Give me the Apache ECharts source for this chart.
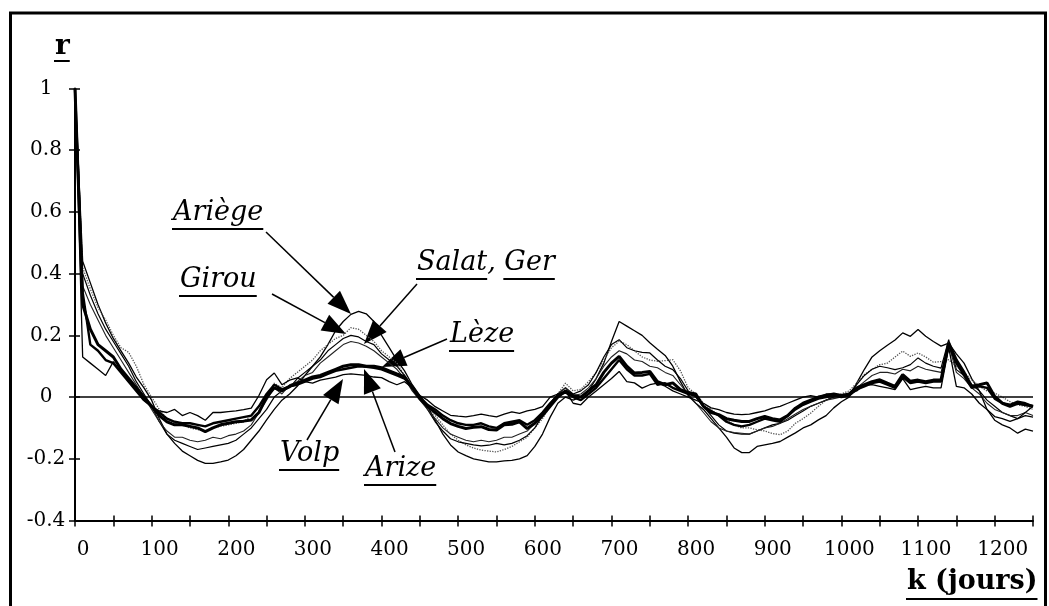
<!DOCTYPE html>
<html><head><meta charset="utf-8">
<script src="https://cdn.jsdelivr.net/npm/echarts@6/dist/echarts.min.js"></script>
<style>html,body{margin:0;padding:0;background:#fff;}#c{width:1049px;height:606px;}</style>
</head><body><div id="c"></div>
<script>
// lag k in days: one value every LAG_STEP days, from 0 to 1250
const LAG_STEP = 10;
const xTickLabels = [0,100,200,300,400,500,600,700,800,900,1000,1100,1200];
const yTickLabels = [-0.4,-0.2,0,0.2,0.4,0.6,0.8,1];

const ariege = [
 1,0.44,0.37,0.30,0.24,0.19,0.15,0.11,0.065,0.03,
 -0.01,-0.07,-0.12,-0.15,-0.175,-0.19,-0.205,-0.215,-0.215,-0.21,
 -0.204,-0.19,-0.17,-0.14,-0.11,-0.074,-0.04,-0.01,0.01,0.035,
 0.07,0.1,0.13,0.17,0.215,0.245,0.268,0.278,0.27,0.245,
 0.2,0.16,0.12,0.085,0.04,0.005,-0.03,-0.075,-0.12,-0.155,
 -0.178,-0.19,-0.2,-0.205,-0.21,-0.21,-0.207,-0.205,-0.2,-0.19,
 -0.16,-0.12,-0.065,-0.02,0.0,-0.01,0.0,0.02,0.06,0.11,
 0.18,0.245,0.23,0.215,0.2,0.176,0.155,0.135,0.1,0.05,
 0.005,-0.02,-0.04,-0.07,-0.1,-0.13,-0.165,-0.18,-0.18,-0.16,
 -0.155,-0.15,-0.144,-0.13,-0.116,-0.1,-0.09,-0.074,-0.06,-0.035,
 -0.015,0.0,0.045,0.09,0.13,0.15,0.168,0.185,0.208,0.197,
 0.219,0.197,0.18,0.165,0.175,0.14,0.11,0.06,0.02,-0.04,
 -0.075,-0.09,-0.1,-0.117,-0.104,-0.11
];
const girou = [
 1,0.42,0.35,0.29,0.25,0.2,0.16,0.145,0.1,0.04,
 0.0,-0.04,-0.07,-0.085,-0.09,-0.1,-0.105,-0.11,-0.1,-0.095,
 -0.09,-0.085,-0.08,-0.06,-0.03,0.0,0.045,0.03,0.06,0.08,
 0.1,0.12,0.15,0.17,0.19,0.2,0.225,0.22,0.2,0.18,
 0.15,0.13,0.11,0.07,0.03,0.0,-0.03,-0.06,-0.09,-0.12,
 -0.14,-0.155,-0.165,-0.172,-0.175,-0.178,-0.17,-0.16,-0.145,-0.13,
 -0.1,-0.07,-0.03,0.01,0.045,0.02,0.025,0.05,0.08,0.12,
 0.16,0.181,0.17,0.15,0.13,0.12,0.116,0.118,0.121,0.085,
 0.03,0.01,-0.02,-0.04,-0.06,-0.075,-0.09,-0.1,-0.1,-0.106,
 -0.11,-0.118,-0.122,-0.11,-0.085,-0.07,-0.052,-0.03,-0.01,0.005,
 0.01,0.02,0.045,0.073,0.09,0.105,0.11,0.13,0.149,0.132,
 0.143,0.13,0.113,0.115,0.121,0.1,0.08,0.056,0.035,0.02,
 0.013,0.0,-0.015,-0.025,-0.03,-0.04
];
const salat = [
 1,0.40,0.33,0.27,0.22,0.18,0.14,0.1,0.05,0.01,
 -0.03,-0.08,-0.12,-0.14,-0.15,-0.16,-0.17,-0.165,-0.16,-0.155,
 -0.15,-0.14,-0.12,-0.1,-0.07,-0.04,0.0,0.02,0.03,0.06,
 0.08,0.1,0.12,0.15,0.17,0.19,0.2,0.195,0.18,0.17,
 0.14,0.12,0.1,0.07,0.03,0.0,-0.04,-0.08,-0.11,-0.135,
 -0.145,-0.15,-0.155,-0.158,-0.156,-0.15,-0.155,-0.15,-0.14,-0.125,
 -0.1,-0.06,-0.02,0.01,0.03,0.01,0.02,0.04,0.08,0.13,
 0.17,0.186,0.16,0.15,0.145,0.143,0.12,0.1,0.089,0.06,
 0.02,0.0,-0.03,-0.06,-0.09,-0.11,-0.117,-0.12,-0.12,-0.11,
 -0.1,-0.09,-0.085,-0.075,-0.06,-0.045,-0.03,-0.02,-0.01,0.0,
 0.005,0.01,0.04,0.07,0.09,0.1,0.095,0.089,0.095,0.105,
 0.127,0.11,0.1,0.094,0.186,0.089,0.07,0.04,0.02,-0.01,
 -0.03,-0.05,-0.06,-0.07,-0.06,-0.065
];
const ger = [
 1,0.36,0.3,0.25,0.2,0.16,0.12,0.08,0.04,0.0,
 -0.04,-0.08,-0.11,-0.13,-0.13,-0.14,-0.145,-0.14,-0.13,-0.135,
 -0.125,-0.12,-0.11,-0.09,-0.05,-0.01,0.03,0.01,0.04,0.05,
 0.07,0.08,0.11,0.13,0.15,0.17,0.18,0.175,0.165,0.15,
 0.13,0.11,0.09,0.06,0.02,-0.01,-0.04,-0.07,-0.1,-0.12,
 -0.13,-0.14,-0.145,-0.14,-0.145,-0.14,-0.13,-0.13,-0.12,-0.11,
 -0.085,-0.05,-0.02,0.01,0.03,0.005,0.01,0.03,0.06,0.1,
 0.13,0.15,0.14,0.12,0.115,0.1,0.095,0.08,0.07,0.04,
 0.01,-0.02,-0.05,-0.08,-0.1,-0.11,-0.115,-0.117,-0.12,-0.11,
 -0.1,-0.095,-0.085,-0.07,-0.055,-0.04,-0.03,-0.02,-0.01,-0.005,
 0.0,0.01,0.03,0.05,0.07,0.08,0.08,0.075,0.09,0.085,
 0.1,0.09,0.085,0.08,0.17,0.08,0.06,0.03,0.01,-0.02,
 -0.04,-0.05,-0.06,-0.06,-0.05,-0.06
];
const leze = [
 1,0.3,0.22,0.17,0.15,0.13,0.09,0.06,0.03,0.0,
 -0.03,-0.06,-0.08,-0.09,-0.09,-0.095,-0.1,-0.112,-0.1,-0.09,
 -0.085,-0.08,-0.078,-0.074,-0.05,0.0,0.03,0.02,0.035,0.045,
 0.055,0.065,0.07,0.08,0.09,0.1,0.105,0.105,0.1,0.1,
 0.095,0.085,0.075,0.066,0.03,-0.005,-0.03,-0.05,-0.07,-0.086,
 -0.095,-0.102,-0.098,-0.096,-0.105,-0.107,-0.09,-0.088,-0.08,-0.102,
 -0.085,-0.06,-0.03,0.0,0.02,0.005,0.0,0.02,0.04,0.08,
 0.11,0.132,0.1,0.078,0.08,0.083,0.05,0.04,0.046,0.024,
 0.015,0.01,-0.03,-0.05,-0.057,-0.07,-0.075,-0.079,-0.079,-0.07,
 -0.063,-0.07,-0.074,-0.06,-0.036,-0.02,-0.01,0.0,0.005,0.01,
 0.005,0.01,0.03,0.04,0.05,0.056,0.045,0.035,0.073,0.051,
 0.055,0.05,0.055,0.056,0.176,0.12,0.08,0.035,0.04,0.046,
 0.002,-0.02,-0.03,-0.02,-0.025,-0.03
];
const volp = [
 1,0.34,0.17,0.15,0.12,0.11,0.08,0.05,0.02,-0.01,
 -0.03,-0.05,-0.07,-0.08,-0.085,-0.085,-0.09,-0.095,-0.085,-0.08,
 -0.075,-0.07,-0.065,-0.06,-0.03,0.01,0.04,0.025,0.035,0.04,
 0.05,0.06,0.065,0.075,0.085,0.09,0.095,0.1,0.098,0.095,
 0.09,0.08,0.07,0.06,0.035,0.0,-0.025,-0.04,-0.06,-0.075,
 -0.085,-0.09,-0.09,-0.085,-0.095,-0.1,-0.085,-0.08,-0.075,-0.09,
 -0.075,-0.05,-0.02,0.005,0.015,0.0,-0.01,0.01,0.03,0.06,
 0.09,0.12,0.09,0.07,0.07,0.075,0.04,0.045,0.03,0.02,
 0.01,0.005,-0.03,-0.045,-0.06,-0.08,-0.09,-0.095,-0.09,-0.08,
 -0.07,-0.075,-0.08,-0.06,-0.04,-0.025,-0.015,-0.005,0.0,0.005,
 0.0,0.005,0.025,0.035,0.045,0.05,0.04,0.03,0.065,0.045,
 0.05,0.045,0.05,0.05,0.17,0.11,0.07,0.03,0.035,0.03,
 -0.005,-0.02,-0.025,-0.015,-0.02,-0.03
];
const arize = [
 1,0.13,0.11,0.09,0.07,0.115,0.08,0.05,0.02,-0.01,
 -0.03,-0.045,-0.05,-0.04,-0.06,-0.05,-0.06,-0.075,-0.05,-0.05,
 -0.047,-0.045,-0.041,-0.036,0.005,0.056,0.078,0.04,0.055,0.062,
 0.05,0.045,0.055,0.06,0.065,0.073,0.075,0.073,0.07,0.065,
 0.063,0.05,0.04,0.05,0.03,0.005,-0.01,-0.031,-0.045,-0.059,
 -0.062,-0.064,-0.06,-0.055,-0.06,-0.064,-0.055,-0.048,-0.053,-0.045,
 -0.04,-0.031,0.0,0.01,0.02,-0.02,-0.025,0.0,0.02,0.04,
 0.06,0.083,0.05,0.046,0.029,0.04,0.045,0.035,0.02,0.01,
 0.0,-0.01,-0.02,-0.035,-0.041,-0.05,-0.055,-0.057,-0.055,-0.05,
 -0.045,-0.036,-0.03,-0.02,-0.01,0.0,0.005,0.0,0.01,0.01,
 0.005,0.01,0.02,0.04,0.04,0.035,0.03,0.024,0.06,0.024,
 0.03,0.035,0.03,0.03,0.16,0.035,0.03,0.01,-0.02,-0.04,
 -0.063,-0.07,-0.079,-0.07,-0.05,-0.03
];

const seriesNames = ['Ariège','Girou','Salat','Ger','Lèze','Volp','Arize'];
const seriesValues = [ariege, girou, salat, ger, leze, volp, arize];
const lineStyles = [
  {color:'#000', width:1.3, type:'solid'},
  {color:'#555', width:1.3, type:'dotted'},
  {color:'#000', width:1.2, type:'solid'},
  {color:'#222', width:1.1, type:'solid'},
  {color:'#000', width:3, type:'solid'},
  {color:'#000', width:2.4, type:'solid'},
  {color:'#000', width:1.3, type:'solid'}
];

const SERIF = '"DejaVu Serif", "Liberation Serif", serif';
const measureCtx = document.createElement('canvas').getContext('2d');
function textWidth(t, font){ measureCtx.font = font; return measureCtx.measureText(t).width; }

// annotation layout (pixels): label, left x, baseline y, arrow start, arrow tip
const ITAL = 'italic 27px ' + SERIF;
const annotations = [
  {parts:['Ariège'], x:173, base:222, from:[266,232], to:[351,314]},
  {parts:['Girou'], x:180, base:289, from:[272,294], to:[346,334]},
  {parts:['Salat', ', ', 'Ger'], x:417, base:272, from:[417,284], to:[364,344]},
  {parts:['Lèze'], x:450, base:344, from:[447,339], to:[382,367]},
  {parts:['Volp'], x:280, base:463, from:[307,440], to:[343,379]},
  {parts:['Arize'], x:365, base:478, from:[395,452], to:[364,369]}
];

function arrow(from, to){
  const dx = to[0]-from[0], dy = to[1]-from[1];
  const len = Math.hypot(dx,dy), ux = dx/len, uy = dy/len;
  const L = 24, W = 9;
  const bx = to[0]-ux*L, by = to[1]-uy*L;
  return [
    {type:'line', silent:true, shape:{x1:from[0],y1:from[1],x2:bx,y2:by}, style:{stroke:'#000', lineWidth:1.5}},
    {type:'polygon', silent:true, shape:{points:[[to[0],to[1]],[bx-uy*W,by+ux*W],[bx+uy*W,by-ux*W]]}, style:{fill:'#000'}}
  ];
}

const graphics = [];
graphics.push({type:'rect', silent:true, shape:{x:10.5,y:13,width:1035,height:620}, style:{fill:'none', stroke:'#000', lineWidth:3}});
function addText(t, x, base, font, ul){
  const fs = parseFloat(font.match(/(\d+)px/)[1]);
  // text is placed by its top; baseline sits about 0.85 em below the top
  graphics.push({type:'text', silent:true, x:x, y:base - 0.85*fs, style:{text:t, font:font, fill:'#000', textAlign:'left', textVerticalAlign:'top', align:'left', verticalAlign:'top'}});
  if (ul){
    const w = textWidth(t, font);
    graphics.push({type:'line', silent:true, shape:{x1:x-1,y1:base+ul,x2:x+w,y2:base+ul}, style:{stroke:'#000', lineWidth:2}});
  }
}
annotations.forEach(a=>{
  let x = a.x;
  a.parts.forEach(p=>{
    addText(p, x, a.base, ITAL, p.trim()===',' ? 0 : 7);
    x += textWidth(p, ITAL);
  });
  arrow(a.from, a.to).forEach(g=>graphics.push(g));
});
addText('r', 55, 57, 'bold 28px ' + SERIF, 4);
addText('k (jours)', 907, 591, 'bold 27px ' + SERIF, 8);

const labelStyle = {fontFamily:SERIF, fontSize:20, color:'#000'};
const option = {
  animation:false,
  grid:{left:75, right:16, top:88.5, bottom:85.5, containLabel:false},
  xAxis:[
    {type:'value', min:0, max:1250, interval:50, position:'bottom',
     axisLine:{show:true, onZero:false, lineStyle:{color:'#000', width:2}},
     axisTick:{show:true, length:6, lineStyle:{color:'#000', width:1.5}},
     axisLabel:Object.assign({margin:19, padding:[0,0,0,16],
       formatter:v=> xTickLabels.indexOf(v)>=0 ? String(v) : ''}, labelStyle),
     splitLine:{show:false}},
    {type:'value', min:0, max:1250, interval:50, position:'bottom',
     axisLine:{show:false, onZero:false},
     axisTick:{show:true, inside:true, length:5, lineStyle:{color:'#000', width:1.5}},
     axisLabel:{show:false}, splitLine:{show:false}}
  ],
  yAxis:[
    {type:'value', min:-0.4, max:1, interval:0.2, position:'left',
     axisLine:{show:true, onZero:false, lineStyle:{color:'#000', width:2}},
     axisTick:{show:true, length:6, lineStyle:{color:'#000', width:1.5}},
     axisLabel:Object.assign({margin:29, align:'center',
       formatter:v=>{ const r = Math.round(v*10)/10; return yTickLabels.indexOf(r)>=0 ? (r===0?'0':String(r)) : ''; }}, labelStyle),
     splitLine:{show:false}},
    {type:'value', min:-0.4, max:1, interval:0.2, position:'left',
     axisLine:{show:false, onZero:false},
     axisTick:{show:true, inside:true, length:5, lineStyle:{color:'#000', width:1.5}},
     axisLabel:{show:false}, splitLine:{show:false}}
  ],
  series: seriesValues.map((vals, i)=>({
    name: seriesNames[i], type:'line', xAxisIndex:0, yAxisIndex:0,
    data: vals.map((v,j)=>[j*LAG_STEP, v]),
    showSymbol:false, symbol:'none', silent:true,
    lineStyle: lineStyles[i], z: lineStyles[i].width>2 ? 4 : 3,
    markLine: i===0 ? {silent:true, symbol:'none', label:{show:false},
      lineStyle:{color:'#000', width:1.5, type:'solid'}, data:[{yAxis:0}]} : undefined
  })),
  graphic: graphics
};
const chart = echarts.init(document.getElementById('c'));
chart.setOption(option);
</script></body></html>
